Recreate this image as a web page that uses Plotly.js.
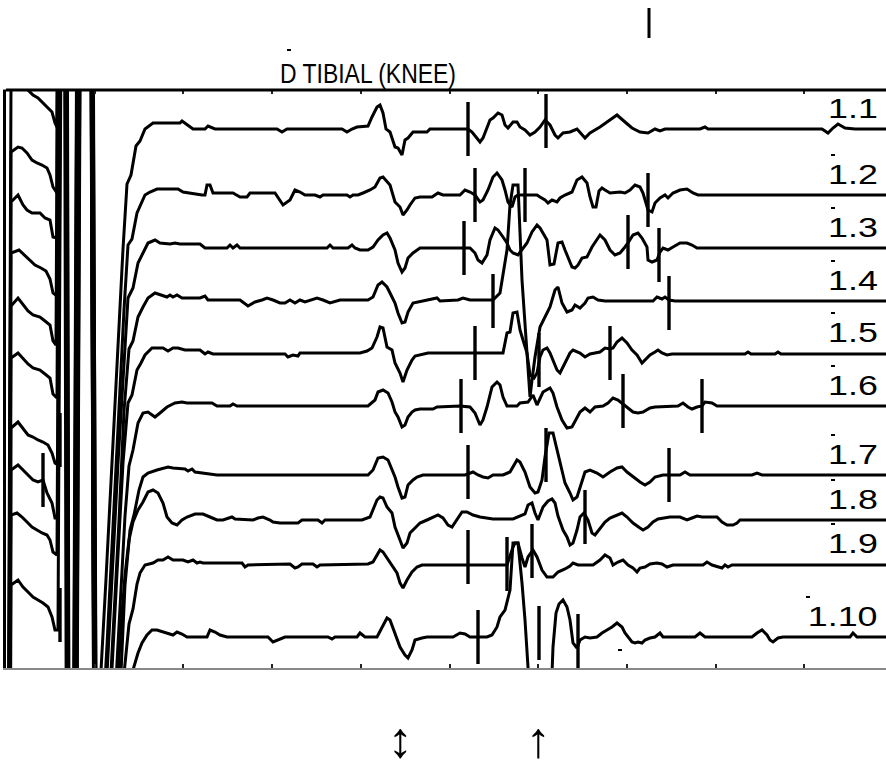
<!DOCTYPE html>
<html>
<head>
<meta charset="utf-8">
<script src="https://cdn.plot.ly/plotly-3.0.1.min.js"></script>
<style>
  html, body { margin: 0; padding: 0; background: #fff; }
  #chart { width: 886px; height: 769px; }
</style>
</head>
<body>
<div id="chart"></div>
<script>
// Ten F-wave sweeps, tibial nerve stimulated at the knee.
// Each sweep: [sample, amplitude] pairs; amplitude relative to the sweep baseline.
// +600 / -700 mark the saturated stimulus artefact.

const sweep_1_1 = [[8,-700],[11,46],[18,53],[23,48],[28,39],[33,34],[38,31],[43,26],[48,22],[52,17],[55,6],[57,2],[60,600],[66,600],[69,-700],[74,-700],[80,600],[90,600],[96,-700],[100,-560],[106,-450],[112,-330],[118,-225],[123,-120],[127,-55],[131,-46],[136,-17],[140,-12],[145,0],[153,6],[180,6],[182,8],[193,0],[205,0],[208,3],[215,0],[277,0],[282,-3],[287,0],[342,0],[347,-3],[352,0],[357,2],[368,3],[372,12],[377,22],[380,24],[383,16],[386,0],[390,-3],[395,-18],[398,-19],[402,-26],[405,-11],[408,-9],[413,-3],[427,-3],[430,0],[468,0],[472,-3],[480,-13],[483,-9],[490,9],[493,11],[498,16],[502,14],[505,4],[508,1],[513,7],[517,7],[520,2],[525,-1],[530,-6],[535,-3],[540,2],[545,9],[550,4],[555,-6],[558,-9],[563,-4],[570,-3],[577,0],[585,-9],[590,-4],[600,2],[610,9],[617,14],[625,7],[632,1],[640,-3],[648,-4],[655,0],[660,-2],[665,0],[700,0],[705,2],[708,0],[822,0],[828,-4],[833,1],[838,5],[845,1],[855,0],[886,0]];

const sweep_1_2 = [[8,-700],[11,43],[18,48],[22,47],[27,42],[32,35],[37,32],[42,30],[47,27],[50,20],[53,8],[57,2],[59,600],[65,600],[68,-700],[73,-700],[79,600],[91,600],[97,-700],[101,-560],[107,-450],[113,-330],[119,-220],[124,-115],[128,-50],[132,-44],[137,-18],[141,-8],[145,0],[150,3],[157,6],[178,6],[183,3],[202,0],[205,0],[207,10],[210,10],[213,2],[233,2],[240,-2],[247,-2],[250,2],[275,2],[283,-10],[290,-5],[295,5],[300,3],[305,0],[315,0],[320,-2],[323,0],[347,0],[350,-2],[353,0],[358,0],[363,2],[370,5],[375,8],[380,17],[383,18],[390,10],[395,-7],[400,-12],[403,-20],[407,-15],[410,-10],[415,-3],[420,-2],[432,-2],[438,2],[443,0],[460,0],[465,5],[470,3],[475,0],[480,-7],[483,-5],[488,5],[493,18],[497,22],[502,15],[505,5],[508,-7],[512,-12],[515,-2],[518,0],[537,0],[540,-2],[545,-5],[548,-8],[552,-5],[557,-7],[560,-3],[565,0],[572,3],[577,15],[582,18],[587,12],[590,-2],[593,-12],[596,-12],[599,4],[602,7],[605,5],[610,2],[620,3],[625,2],[630,5],[635,10],[640,8],[643,2],[648,-15],[652,-17],[655,-8],[660,-3],[665,0],[668,-3],[673,2],[680,5],[687,6],[693,2],[698,0],[886,0]];

const sweep_1_3 = [[8,-700],[11,46],[18,53],[23,43],[27,38],[32,35],[40,35],[45,30],[50,28],[53,11],[57,10],[60,600],[66,600],[69,-700],[74,-700],[80,600],[89,600],[95,-700],[100,-560],[106,-450],[112,-330],[118,-215],[124,-110],[128,-50],[133,-40],[138,-15],[143,-5],[148,5],[155,8],[160,5],[170,4],[175,5],[180,4],[200,4],[205,0],[227,0],[230,3],[233,0],[237,3],[240,0],[327,0],[330,3],[333,0],[348,0],[352,3],[355,0],[360,-2],[368,-2],[373,1],[378,8],[383,13],[387,15],[390,10],[395,-2],[398,-15],[402,-24],[405,-20],[408,-10],[413,-5],[417,-2],[420,0],[470,0],[475,-5],[478,-12],[482,-15],[487,-7],[490,8],[495,20],[498,18],[503,11],[507,5],[510,-2],[513,-5],[518,-7],[522,-2],[527,5],[532,16],[537,23],[540,20],[543,15],[547,8],[550,-17],[554,-16],[558,5],[562,6],[565,-2],[568,-9],[572,-19],[575,-20],[578,-17],[582,-10],[587,-9],[592,1],[597,8],[600,13],[605,8],[610,-2],[615,-7],[620,-5],[625,1],[628,5],[633,13],[638,15],[642,10],[647,1],[648,-12],[652,-14],[657,-12],[660,-4],[663,0],[668,-2],[673,1],[680,5],[687,5],[692,3],[697,0],[886,0]];

const sweep_1_4 = [[8,-700],[11,48],[19,51],[24,46],[29,42],[35,36],[41,33],[46,30],[50,22],[53,8],[57,5],[60,600],[65,600],[68,-700],[73,-700],[79,600],[92,600],[97,-700],[101,-560],[107,-450],[113,-330],[119,-220],[124,-110],[129,-48],[133,-40],[138,-16],[143,-6],[148,3],[155,8],[160,6],[167,4],[170,6],[173,4],[177,6],[182,3],[200,3],[205,5],[208,1],[240,1],[248,-5],[255,-1],[262,1],[267,3],[273,1],[280,-2],[285,-2],[290,1],[295,-2],[300,1],[305,-1],[312,1],[317,3],[323,1],[330,-2],[340,1],[368,1],[373,4],[378,16],[382,19],[387,14],[392,4],[395,-2],[398,-12],[402,-22],[405,-21],[408,-11],[413,-2],[418,-1],[427,1],[433,2],[437,3],[440,0],[458,1],[463,3],[470,1],[493,1],[500,8],[507,51],[510,96],[513,116],[518,116],[522,21],[527,-52],[530,-96],[532,-79],[535,-56],[540,-26],[547,-12],[550,-6],[555,11],[558,14],[562,-2],[567,-11],[572,-9],[575,-4],[580,-7],[585,-2],[588,3],[593,4],[598,1],[605,0],[653,0],[657,4],[662,2],[665,4],[669,1],[675,0],[886,0]];

const sweep_1_5 = [[8,-700],[11,47],[18,55],[23,48],[28,42],[33,38],[40,36],[45,32],[50,28],[53,12],[56,8],[59,600],[64,600],[67,-700],[72,-700],[78,600],[90,600],[95,-700],[99,-560],[105,-450],[111,-330],[117,-220],[123,-110],[128,-50],[132,-42],[137,-17],[141,-10],[145,-2],[152,5],[163,5],[168,2],[173,5],[178,5],[185,3],[200,3],[205,-1],[208,1],[213,-1],[285,-1],[288,-4],[293,-2],[298,-3],[300,0],[360,0],[367,2],[372,5],[377,16],[380,26],[383,25],[387,6],[392,3],[395,-10],[400,-20],[403,-29],[407,-17],[412,-7],[415,-3],[420,-2],[428,0],[503,0],[507,20],[510,21],[513,40],[517,41],[520,23],[523,13],[527,0],[530,-22],[534,-25],[537,-20],[540,-4],[543,3],[547,5],[550,0],[553,-7],[557,-17],[560,-20],[563,-14],[567,-7],[570,0],[573,3],[580,0],[585,-4],[590,-1],[595,0],[600,1],[605,5],[610,4],[613,5],[617,11],[622,15],[627,10],[632,3],[637,-2],[642,-10],[645,-7],[650,-2],[655,1],[658,3],[662,0],[667,-2],[672,-1],[745,-1],[748,1],[751,-1],[775,-1],[778,1],[781,-1],[886,-1]];

const sweep_1_6 = [[8,-700],[11,48],[18,53],[23,47],[28,42],[33,38],[40,36],[45,32],[50,28],[53,12],[57,8],[60,600],[66,600],[69,-700],[74,-700],[80,600],[91,600],[96,-700],[101,-560],[107,-450],[113,-330],[119,-220],[125,-110],[129,-60],[133,-44],[138,-17],[143,-7],[148,-6],[155,-11],[160,-7],[167,-1],[175,3],[182,4],[187,3],[212,3],[217,0],[230,0],[233,2],[237,0],[368,0],[375,6],[378,14],[383,16],[388,13],[392,4],[395,-6],[398,-11],[402,-21],[405,-19],[408,-11],[412,-6],[415,-4],[420,-3],[433,-3],[437,-1],[460,0],[470,-1],[475,-7],[480,-19],[483,-14],[487,-1],[492,19],[497,24],[500,21],[503,9],[507,0],[517,0],[520,3],[528,4],[533,11],[537,1],[543,14],[550,18],[553,13],[557,-1],[562,-14],[567,-22],[572,-21],[577,-11],[580,-6],[585,-2],[590,-6],[595,-1],[603,0],[608,3],[613,8],[618,6],[622,3],[628,-2],[633,-6],[638,-7],[643,-6],[650,-2],[655,-1],[678,0],[683,3],[688,-1],[692,-3],[697,-1],[702,0],[705,4],[712,3],[717,0],[886,0]];

const sweep_1_7 = [[8,-700],[11,47],[18,53],[23,47],[28,40],[33,38],[38,35],[43,33],[48,30],[52,22],[55,12],[58,10],[61,600],[67,600],[70,-700],[75,-700],[81,600],[92,600],[97,-700],[102,-560],[108,-450],[114,-330],[120,-220],[125,-110],[130,-55],[134,-40],[139,-15],[143,-2],[148,2],[157,5],[168,8],[173,7],[185,6],[188,4],[192,6],[195,3],[217,0],[368,0],[373,5],[378,17],[383,18],[388,15],[392,5],[395,-2],[398,-12],[402,-23],[405,-22],[408,-10],[413,-5],[417,-2],[423,0],[465,0],[473,3],[478,0],[483,-2],[488,-3],[493,0],[503,0],[510,3],[517,15],[520,13],[525,3],[530,-12],[535,-18],[538,-17],[542,-5],[545,18],[549,42],[553,42],[557,25],[560,12],[565,-8],[570,-18],[573,-25],[577,-22],[580,-12],[585,3],[590,5],[597,2],[603,-2],[610,3],[617,7],[622,8],[627,3],[633,-2],[640,-7],[645,-10],[650,-7],[655,-2],[663,0],[680,0],[685,3],[690,0],[752,0],[757,2],[762,0],[886,0]];

const sweep_1_8 = [[8,-700],[11,50],[18,55],[23,50],[28,45],[33,40],[38,38],[43,40],[47,27],[52,17],[55,2],[58,2],[61,600],[66,600],[69,-700],[74,-700],[80,600],[91,600],[96,-700],[99,-560],[104,-450],[110,-330],[115,-220],[120,-120],[125,-55],[129,-20],[133,-2],[138,10],[143,18],[148,28],[153,30],[158,27],[163,17],[167,3],[172,-3],[177,-5],[182,0],[187,3],[195,6],[203,6],[210,3],[217,0],[223,0],[228,2],[232,3],[235,1],[253,0],[258,2],[263,3],[270,0],[273,-2],[280,-3],[298,-3],[302,0],[318,0],[322,-3],[325,0],[362,0],[370,3],[377,20],[380,23],[383,22],[387,13],[392,7],[395,-7],[400,-20],[403,-28],[407,-23],[410,-13],[415,-8],[420,-3],[427,0],[433,3],[438,5],[443,2],[448,-5],[452,-7],[457,0],[462,8],[467,8],[473,5],[480,3],[493,1],[513,1],[520,4],[525,6],[528,15],[532,17],[535,7],[538,0],[543,13],[548,19],[552,21],[555,17],[558,4],[563,-10],[567,-17],[570,-25],[573,-23],[577,-10],[580,3],[584,7],[588,0],[592,-13],[595,-15],[600,-8],[605,-2],[610,2],[617,5],[622,7],[627,3],[633,-3],[640,-8],[643,-10],[648,-7],[653,-2],[658,1],[665,2],[670,3],[680,3],[687,0],[692,2],[697,4],[702,3],[717,3],[722,-2],[727,-5],[733,-5],[737,-3],[740,0],[886,0]];

const sweep_1_9 = [[8,-700],[11,49],[17,51],[22,47],[27,42],[32,37],[37,34],[42,31],[47,29],[50,24],[53,12],[57,9],[60,600],[65,600],[68,-700],[73,-700],[79,600],[91,600],[96,-700],[101,-560],[107,-450],[113,-330],[119,-220],[124,-110],[129,-60],[133,-45],[137,-20],[140,-9],[145,-1],[153,1],[158,4],[163,4],[168,7],[173,4],[183,4],[188,2],[193,4],[197,1],[200,2],[203,1],[242,1],[245,-3],[248,-1],[290,0],[295,-4],[298,-3],[302,0],[313,0],[317,-3],[320,-1],[368,0],[373,2],[377,9],[380,14],[383,12],[388,4],[393,-3],[397,-9],[400,-19],[403,-24],[407,-16],[412,-8],[417,-3],[422,-1],[507,-1],[510,9],[513,17],[515,21],[518,21],[522,6],[525,-3],[528,7],[533,14],[537,7],[542,-6],[547,-13],[553,-13],[558,-8],[565,-5],[570,-2],[573,1],[578,-1],[593,-1],[600,4],[605,9],[610,6],[613,-1],[618,2],[623,4],[628,-1],[633,-4],[637,-8],[640,-4],[645,-3],[650,0],[657,1],[662,0],[667,-3],[673,-1],[703,-1],[707,2],[712,-1],[718,-3],[722,-4],[725,-1],[728,-3],[732,-1],[886,-1]];

const sweep_1_10 = [[8,-700],[11,52],[18,57],[23,50],[28,45],[33,40],[38,37],[43,34],[48,30],[52,20],[55,7],[58,7],[61,600],[66,600],[69,-700],[74,-700],[80,600],[91,600],[96,-700],[103,-560],[109,-450],[115,-330],[121,-220],[127,-100],[133,-33],[138,-16],[142,-6],[147,2],[152,7],[157,7],[173,2],[177,5],[182,3],[187,0],[207,0],[210,7],[215,5],[220,2],[227,0],[268,0],[273,-5],[278,-3],[285,0],[328,0],[332,-2],[335,0],[357,0],[360,4],[365,0],[377,0],[382,10],[387,19],[390,17],[393,9],[397,0],[400,-10],[405,-18],[408,-21],[412,-13],[415,-3],[422,-1],[427,0],[453,0],[460,4],[465,3],[470,0],[487,0],[492,2],[497,10],[500,20],[505,27],[510,47],[513,94],[518,94],[522,54],[525,17],[528,-30],[532,-90],[550,-90],[553,-10],[556,24],[559,33],[563,37],[567,30],[570,17],[573,-6],[577,-11],[580,-3],[585,0],[590,-1],[597,0],[602,4],[607,7],[612,10],[617,14],[622,10],[625,4],[628,0],[632,-5],[635,-6],[638,-5],[642,-6],[645,-3],[650,-1],[655,0],[660,4],[663,0],[695,0],[700,4],[705,0],[752,0],[757,4],[762,7],[767,2],[770,-3],[773,-5],[778,-1],[783,0],[850,0],[853,4],[857,0],[886,0]];

// Latency cursors per sweep: [sample, level relative to baseline]
const cursors_1_1 = [[468,0],[546,8]];
const cursors_1_2 = [[475,0],[525,0],[648,-5]];
const cursors_1_3 = [[464,0],[628,6],[659,-7]];
const cursors_1_4 = [[493,0],[669,-2]];
const cursors_1_5 = [[475,0],[539,-7],[610,0]];
const cursors_1_6 = [[461,0],[623,5],[702,0]];
const cursors_1_7 = [[60,35],[468,3],[546,20],[669,0]];
const cursors_1_8 = [[43,40],[585,3]];
const cursors_1_9 = [[468,7],[507,0],[532,13]];
const cursors_1_10 = [[60,22],[478,0],[539,4],[578,-4]];

const sweepLabels = ['1.1','1.2','1.3','1.4','1.5','1.6','1.7','1.8','1.9','1.10'];
const sweepOffsets = [539,473,420,367,315,262,193,148,104,31];

const sweeps = [sweep_1_1,sweep_1_2,sweep_1_3,sweep_1_4,sweep_1_5,sweep_1_6,sweep_1_7,sweep_1_8,sweep_1_9,sweep_1_10];
const cursors = [cursors_1_1,cursors_1_2,cursors_1_3,cursors_1_4,cursors_1_5,cursors_1_6,cursors_1_7,cursors_1_8,cursors_1_9,cursors_1_10];

// ---- drawing ----
const W = 886, H = 769;
const M = {l: 6, r: 0, t: 90, b: 101};
const X_RANGE = [6, 886];
const Y_RANGE = [0, 578];
const CURSOR_HALF = 27;
const FONT = 'Liberation Sans, Arial, Helvetica, sans-serif';
const LABEL_STRETCH = 1.28;  // sweep labels are drawn wide
const TITLE_STRETCH = 0.82;  // title is drawn narrow

// pixel -> paper helpers for the few free-standing marks around the frame
const pw = W - M.l - M.r, ph = H - M.t - M.b;
const pxX = px => (px - M.l) / pw;
const pxY = py => (H - M.b - py) / ph;

const data = [];
sweeps.forEach((sw, i) => {
  const off = sweepOffsets[i];
  data.push({
    type: 'scatter', mode: 'lines',
    x: sw.map(p => p[0]),
    y: sw.map(p => p[1] + off),
    line: {color: '#000', width: 3},
    hoverinfo: 'skip'
  });
});
cursors.forEach((cs, i) => {
  const off = sweepOffsets[i];
  const x = [], y = [];
  cs.forEach(c => {
    x.push(c[0], c[0], null);
    y.push(off + c[1] - CURSOR_HALF, off + c[1] + CURSOR_HALF, null);
  });
  data.push({
    type: 'scatter', mode: 'lines', x, y,
    line: {color: '#000', width: 3.4},
    hoverinfo: 'skip'
  });
});

const annotations = sweepLabels.map((lab, i) => ({
  x: 880, y: sweepOffsets[i] + 21, xref: 'x', yref: 'y',
  text: lab, showarrow: false, xanchor: 'right', yanchor: 'middle',
  font: {family: FONT, size: 28, color: '#000'}
}));
annotations.push(
  {x: pxX(400), y: pxY(740), xref: 'paper', yref: 'paper', text: '↕', showarrow: false,
   xanchor: 'center', yanchor: 'middle', borderpad: 0, font: {family: FONT, size: 50, color: '#000'}},
  {x: pxX(538), y: pxY(740), xref: 'paper', yref: 'paper', text: '↑', showarrow: false,
   xanchor: 'center', yanchor: 'middle', borderpad: 0, font: {family: FONT, size: 50, color: '#000'}}
);

const shapes = [
  // heavy top frame line
  {type: 'line', xref: 'paper', yref: 'paper', x0: 0, x1: 1, y0: 1, y1: 1,
   line: {color: '#000', width: 3}},
  // stray cursor above the frame
  {type: 'line', xref: 'paper', yref: 'paper', x0: pxX(649), x1: pxX(649), y0: pxY(38), y1: pxY(8),
   line: {color: '#000', width: 3}},
  // tick over the title initial
  {type: 'line', xref: 'paper', yref: 'paper', x0: pxX(287), x1: pxX(291), y0: pxY(50), y1: pxY(50),
   line: {color: '#000', width: 2}},
  // small mark near the last sweep
  {type: 'line', xref: 'x', yref: 'y', x0: 618, x1: 622, y0: 18, y1: 18,
   line: {color: '#000', width: 2}}
];
// small marks at the upper left of the sweep labels
sweepLabels.forEach((lab, i) => {
  if (i === 0) return;
  const lx = lab.length > 3 ? 808 : 833;
  shapes.push({type: 'line', xref: 'x', yref: 'y', x0: lx - 2, x1: lx + 2,
    y0: sweepOffsets[i] + 40, y1: sweepOffsets[i] + 40, line: {color: '#000', width: 2}});
});

const layout = {
  width: W, height: H,
  margin: M,
  paper_bgcolor: '#fff', plot_bgcolor: '#fff',
  showlegend: false,
  title: {
    text: 'D TIBIAL (KNEE)',
    font: {family: FONT, size: 28, color: '#000'},
    xref: 'container', yref: 'container',
    x: 368 / W, xanchor: 'center', y: 1 - 73 / H, yanchor: 'middle'
  },
  xaxis: {
    range: X_RANGE, showgrid: false, zeroline: false, showticklabels: false,
    ticks: 'inside', ticklen: 4, tickwidth: 2, tickcolor: '#222',
    tick0: 6, dtick: 88.7,
    showline: true, linecolor: '#888', linewidth: 1.5, mirror: 'ticks',
    fixedrange: true
  },
  yaxis: {
    range: Y_RANGE, showgrid: false, zeroline: false, showticklabels: false,
    ticks: '', showline: true, linecolor: '#000', linewidth: 3,
    fixedrange: true
  },
  annotations, shapes
};

// horizontal stretch of a text element about its right edge or centre
function stretchText(el, sx, anchor) {
  if (!el) return;
  const b = el.getBBox();
  const ax = anchor === 'right' ? b.x + b.width : b.x + b.width / 2;
  const prev = el.getAttribute('transform') || '';
  el.setAttribute('transform', `${prev} translate(${ax * (1 - sx)},0) scale(${sx},1)`.trim());
}

Plotly.newPlot('chart', data, layout, {staticPlot: true, displayModeBar: false}).then(gd => {
  gd.querySelectorAll('g.annotation').forEach(g => {
    const idx = +g.getAttribute('data-index');
    if (idx < sweepLabels.length) stretchText(g.querySelector('text.annotation-text'), LABEL_STRETCH, 'right');
  });
  stretchText(gd.querySelector('text.gtitle'), TITLE_STRETCH, 'center');
});
</script>
</body>
</html>
